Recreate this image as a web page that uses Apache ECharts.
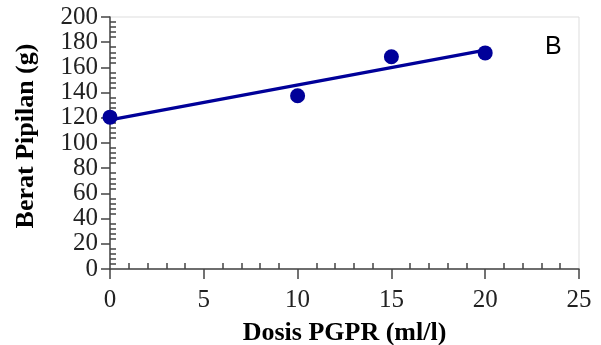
<!DOCTYPE html>
<html>
<head>
<meta charset="utf-8">
<script src="https://cdn.jsdelivr.net/npm/echarts@6/dist/echarts.min.js"></script>
<style>
  html, body { margin: 0; padding: 0; background: #fff; }
  #chart { width: 601px; height: 345px; }
</style>
</head>
<body>
<div id="chart"></div>
<script>
// observed points (dose ml/l -> weight g)
const dose = [0, 10, 15, 20];
const weight = [120.5, 137.5, 168.5, 171.5];
// fitted line end points
const fitDose = [0, 20];
const fitWeight = [118.4, 173.7];

const serif = '"Liberation Serif", "Times New Roman", serif';
const axisColor = '#444';
const markColor = '#000099';

const points = dose.map((d, i) => [d, weight[i]]);
const fitLine = fitDose.map((d, i) => [d, fitWeight[i]]);

const option = {
  animation: false,
  backgroundColor: '#fff',
  title: {
    text: 'B',
    left: 540,
    top: 30,
    textStyle: { fontFamily: '"Liberation Sans", Arial, sans-serif', fontSize: 25, fontWeight: 'normal', color: '#000' }
  },
  grid: {
    left: 110, right: 22, top: 17, bottom: 76,
    outerBoundsMode: 'none',
    containLabel: false,
    show: true, borderColor: '#dddddd', borderWidth: 1
  },
  xAxis: [
    {
      type: 'value', min: 0, max: 25, interval: 5,
      name: 'Dosis PGPR (ml/l)', nameLocation: 'middle', nameGap: 51,
      nameTextStyle: { fontFamily: serif, fontSize: 26, fontWeight: 'bold', color: '#000' },
      axisLine: { show: true, lineStyle: { color: axisColor, width: 1.5 } },
      axisTick: { show: true, length: 10, lineStyle: { color: axisColor, width: 1.5 } },
      axisLabel: { fontFamily: serif, fontSize: 25, color: '#222', margin: 19, showMinLabel: true, showMaxLabel: true, hideOverlap: false },
      splitLine: { show: false }
    },
    {
      type: 'value', min: 0, max: 25, interval: 5, position: 'bottom',
      axisLine: { show: false },
      axisTick: { show: false, inside: true },
      minorTick: { show: true, splitNumber: 5, length: 6, lineStyle: { color: axisColor, width: 1.5 } },
      axisLabel: { show: false },
      splitLine: { show: false }
    }
  ],
  yAxis: [
    {
      type: 'value', min: 0, max: 200, interval: 20,
      name: 'Berat Pipilan (g)', nameLocation: 'middle', nameGap: 71,
      nameTextStyle: { fontFamily: serif, fontSize: 26, fontWeight: 'bold', color: '#000', padding: [0, 0, 0, 14] },
      axisLine: { show: true, lineStyle: { color: axisColor, width: 1.5 } },
      axisTick: { show: true, length: 9, lineStyle: { color: axisColor, width: 1.5 } },
      axisLabel: { fontFamily: serif, fontSize: 25, color: '#222', margin: 12, showMinLabel: true, showMaxLabel: true, hideOverlap: false },
      splitLine: { show: false }
    },
    {
      type: 'value', min: 0, max: 200, interval: 20, position: 'left',
      axisLine: { show: false },
      axisTick: { show: false, inside: true },
      minorTick: { show: true, splitNumber: 5, length: 6, lineStyle: { color: axisColor, width: 1.5 } },
      axisLabel: { show: false },
      splitLine: { show: false }
    }
  ],
  series: [
    {
      type: 'line',
      data: fitLine,
      symbol: 'none',
      lineStyle: { color: markColor, width: 3.2 },
      z: 3
    },
    {
      type: 'scatter',
      data: points,
      symbolSize: 15,
      itemStyle: { color: markColor, opacity: 1 },
      z: 4
    }
  ]
};

const chart = echarts.init(document.getElementById('chart'));
chart.setOption(option);
</script>
</body>
</html>
